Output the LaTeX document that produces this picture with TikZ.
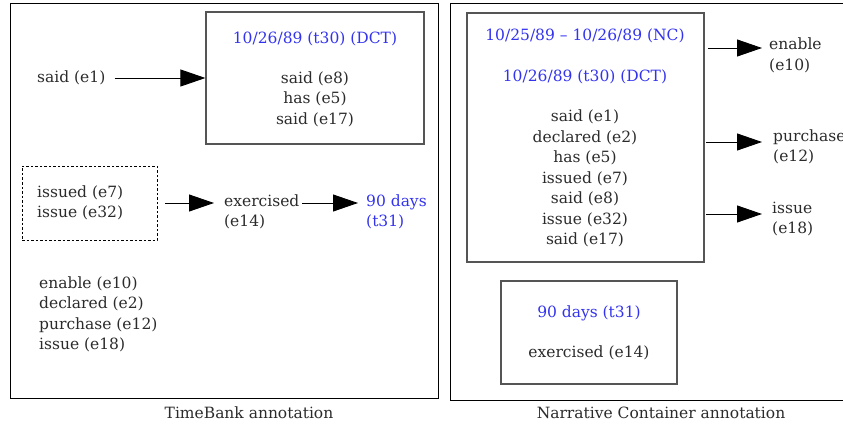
\documentclass[tikz,border=0pt]{standalone}
\usepackage{fontspec}
\setmainfont{DejaVu Serif}
\usetikzlibrary{arrows.meta}
\definecolor{txt}{HTML}{2B2B2B}
\definecolor{bluetxt}{HTML}{3333EE}
\definecolor{boxgray}{HTML}{555555}
\tikzset{
  every node/.style={font=\fontsize{15.5}{20.5}\selectfont, text=txt, inner sep=0pt},
  outerbox/.style={draw=black, line width=0.9pt, fill=none, rectangle},
  innerbox/.style={draw=boxgray, line width=1.2pt, rectangle},
  dashbox/.style={draw=black, line width=0.8pt, dash pattern=on 2.5pt off 2pt, rectangle},
  arr/.style={draw=black, line width=0.9pt, -{Triangle[length=25pt,width=17pt]}},
  blue/.style={text=bluetxt},
  lst/.style={align=center},
  lstl/.style={align=left, anchor=west},
}
\begin{document}
\begin{tikzpicture}[x=1pt,y=-1pt]
\useasboundingbox (0,0) rectangle (843,425);
% ---------- left panel
\node[outerbox, minimum width=428pt, minimum height=395pt] (tb) at (224,200.5) {};
\node (tbcap) at (249,413) {TimeBank annotation};
\node[innerbox, minimum width=218pt, minimum height=132pt] (dctbox) at (315,78) {};
\node[blue] (dct) at (315,39) {10/26/89 (t30) (DCT)};
\node[lst] (dctlist) at (315,99) {said (e8)\\has (e5)\\said (e17)};
\node[anchor=west] (said1) at (37,78) {said (e1)};
\draw[arr] ([xshift=9pt]said1.east) -- (dctbox.west |- said1);
\node[dashbox, minimum width=135pt, minimum height=74pt] (grp) at (89.5,203) {};
\node[lstl] (grptxt) at (37,203) {issued (e7)\\issue (e32)};
\node[lstl] (exer) at (224,212) {exercised\\(e14)};
\node[lstl, blue] (days) at (366,212) {90 days\\(t31)};
\draw[arr] ([xshift=8pt]grp.east) -- ([xshift=-10pt]exer.west |- grp.east);
\coordinate (exend) at (298,203);
\draw[arr] ([xshift=4pt]exend) -- ([xshift=-8pt]days.west |- exend);
\node[lstl] (rest) at (39,314.5) {enable (e10)\\declared (e2)\\purchase (e12)\\issue (e18)};
% ---------- right panel
\node[outerbox, minimum width=400pt, minimum height=397pt] (nc) at (650,201.5) {};
\node (nccap) at (661,413) {Narrative Container annotation};
\node[innerbox, minimum width=237pt, minimum height=249pt] (ncbox) at (585.5,137.5) {};
\node[blue] (ncr) at (585,36) {10/25/89 – 10/26/89 (NC)};
\node[blue] (dct2) at (585,77) {10/26/89 (t30) (DCT)};
\node[lst] (nclist) at (585,178.5) {said (e1)\\declared (e2)\\has (e5)\\issued (e7)\\said (e8)\\issue (e32)\\said (e17)};
\node[lstl] (enable) at (769,55.5) {enable\\(e10)};
\node[lstl] (purch) at (773,147) {purchase\\(e12)};
\node[lstl] (iss) at (772,219) {issue\\(e18)};
\coordinate (a1) at (708,48);
\coordinate (a2) at (706,142);
\coordinate (a3) at (706,214);
\draw[arr] (a1) -- ([xshift=-7pt]enable.west |- a1);
\draw[arr] (a2) -- ([xshift=-11pt]purch.west |- a2);
\draw[arr] (a3) -- ([xshift=-10pt]iss.west |- a3);
\node[innerbox, minimum width=176pt, minimum height=103pt] (daybox) at (589,332.5) {};
\node[blue] (days2) at (589,313) {90 days (t31)};
\node (exer2) at (589,353) {exercised (e14)};
\end{tikzpicture}
\end{document}
